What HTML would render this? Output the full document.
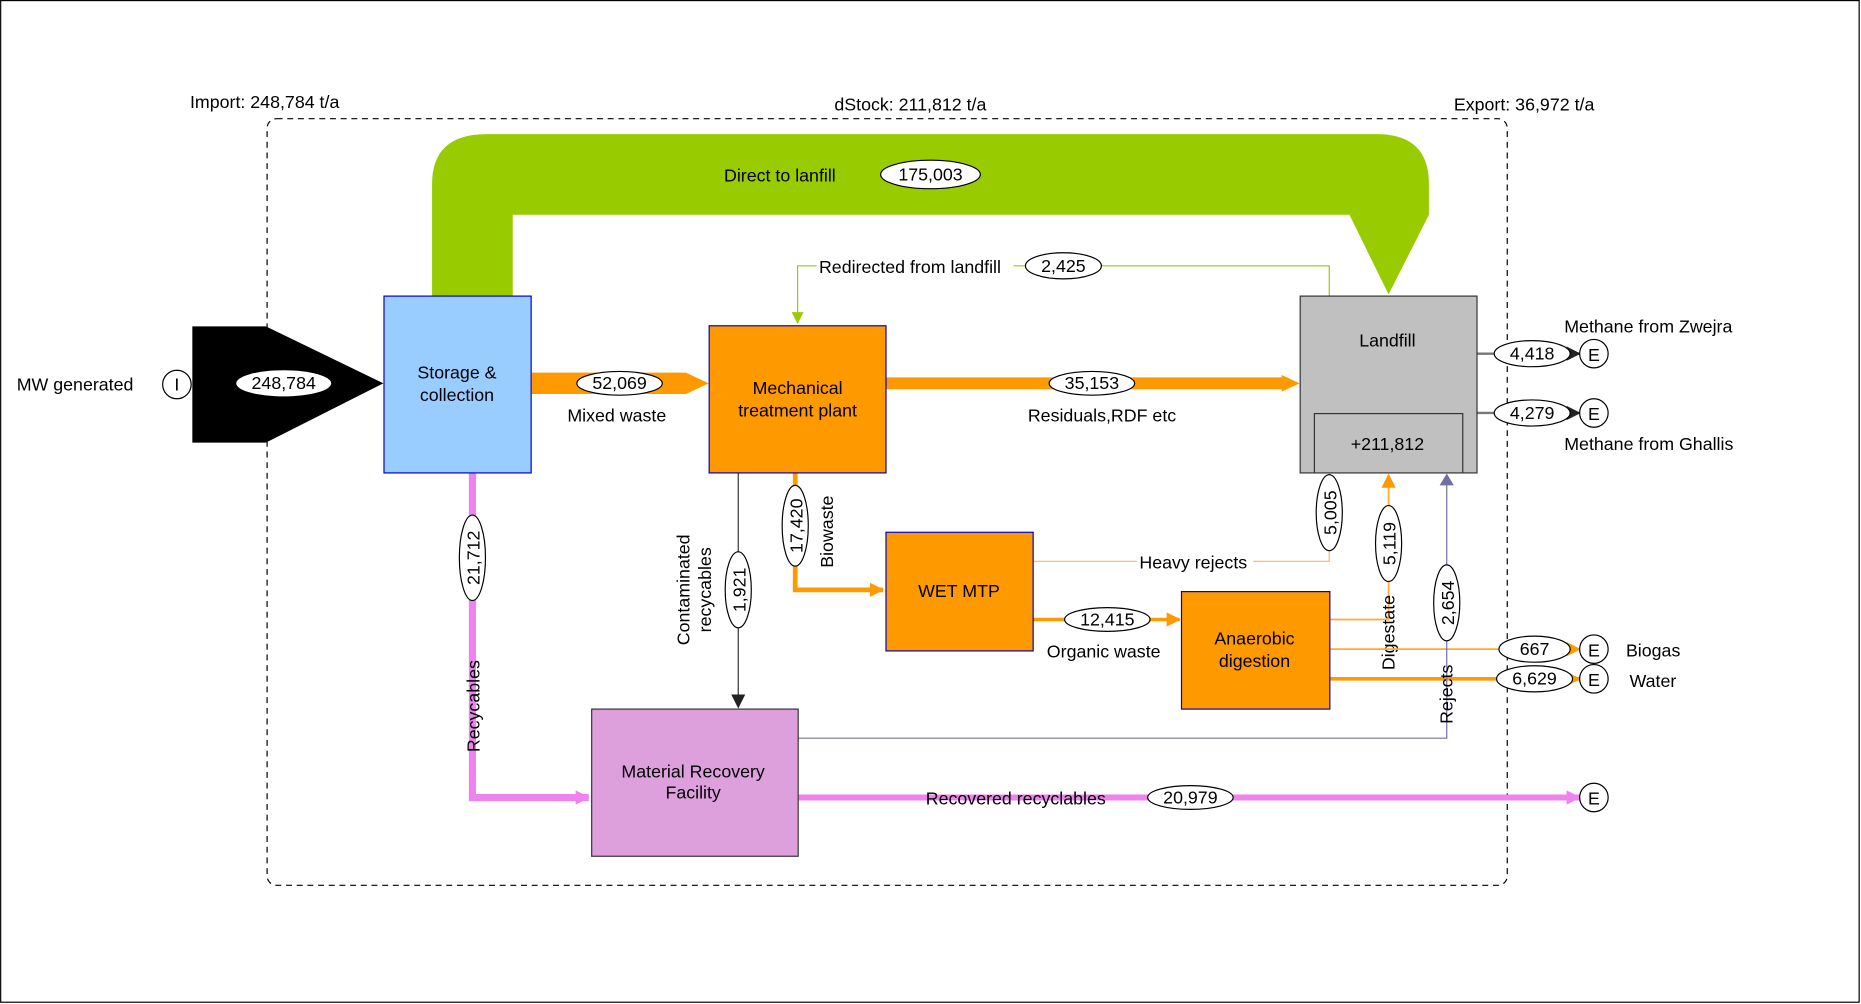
<!DOCTYPE html>
<html><head><meta charset="utf-8"><style>
html,body{margin:0;padding:0;background:#fff;}
svg{display:block;}
text{font-family:"Liberation Sans",sans-serif;font-size:15px;fill:#000;}
</style></head><body>
<svg width="1861" height="1004" viewBox="0 0 1568 846" xmlns="http://www.w3.org/2000/svg">
<defs>
<marker id="ab" markerWidth="8" markerHeight="8" refX="7" refY="4" orient="auto" markerUnits="userSpaceOnUse"><path d="M0,0 L8,4 L0,8 Z" fill="#000"/></marker>
<marker id="ao" markerWidth="12" markerHeight="12" refX="11" refY="6" orient="auto" markerUnits="userSpaceOnUse"><path d="M0,0 L12,6 L0,12 Z" fill="#ff9900"/></marker>
<marker id="ag" markerWidth="10" markerHeight="10" refX="9" refY="5" orient="auto" markerUnits="userSpaceOnUse"><path d="M0,0 L10,5 L0,10 Z" fill="#99cc00"/></marker>
<marker id="as" markerWidth="10" markerHeight="12" refX="9" refY="6" orient="auto" markerUnits="userSpaceOnUse"><path d="M0,0 L10,6 L0,12 Z" fill="#7070a0"/></marker>
<marker id="ap" markerWidth="12" markerHeight="12" refX="11" refY="6" orient="auto" markerUnits="userSpaceOnUse"><path d="M0,0 L12,6 L0,12 Z" fill="#ee82ee"/></marker>
<marker id="ad" markerWidth="12" markerHeight="12" refX="11" refY="6" orient="auto" markerUnits="userSpaceOnUse"><path d="M0,0 L12,6 L0,12 Z" fill="#222"/></marker>
</defs>
<rect x="0.5" y="0.5" width="1566" height="844" fill="#fff" stroke="#000"/>
<rect x="225" y="100" width="1045" height="646" rx="8" fill="none" stroke="#000" stroke-dasharray="5,4"/>
<text x="160" y="91">Import: 248,784 t/a</text>
<text x="703" y="93">dStock: 211,812 t/a</text>
<text x="1225" y="93">Export: 36,972 t/a</text>

<path d="M364,249 L364,155 Q364,113 410,113 L1160,113 Q1204,113 1204,155 L1204,181 L1170,248 L1137,181 L432,181 L432,249 Z" fill="#99cc00"/>
<text x="610" y="153">Direct to lanfill</text>
<ellipse cx="784" cy="147" rx="42" ry="12" fill="#fff" stroke="#000"/>
<text x="784" y="152" text-anchor="middle">175,003</text>

<polygon points="162,275 224,275 323,323 224,373 162,373" fill="#000"/>
<ellipse cx="239" cy="323" rx="40" ry="11" fill="#fff"/>
<text x="239" y="328" text-anchor="middle">248,784</text>
<text x="14" y="329">MW generated</text>
<circle cx="149" cy="324" r="12" fill="#fff" stroke="#000"/>
<text x="149" y="329" text-anchor="middle">I</text>

<polyline points="1120,249 1120,224 672,224 672,272" fill="none" stroke="#99cc00" stroke-width="1" marker-end="url(#ag)"/>
<rect x="688" y="214" width="166" height="18" fill="#fff"/>
<text x="690" y="230">Redirected from landfill</text>
<ellipse cx="896" cy="224" rx="32" ry="11" fill="#fff" stroke="#000"/>
<text x="896" y="229" text-anchor="middle">2,425</text>

<polygon points="448,314 578,314 578,314 597,323 578,332 448,332" fill="#ff9900"/>
<ellipse cx="522" cy="323" rx="36" ry="10" fill="#fff" stroke="#000"/>
<text x="522" y="328" text-anchor="middle">52,069</text>
<text x="478" y="355">Mixed waste</text>

<polygon points="746,318 1080,318 1080,316 1095,323 1080,330 1080,328 746,328" fill="#ff9900"/>
<ellipse cx="920" cy="323" rx="36" ry="10" fill="#fff" stroke="#000"/>
<text x="920" y="328" text-anchor="middle">35,153</text>
<text x="866" y="355">Residuals,RDF etc</text>

<polyline points="398,398 398,672 496,672" fill="none" stroke="#ee82ee" stroke-width="6" marker-end="url(#ap)"/>
<ellipse cx="398" cy="470" rx="11" ry="36" fill="#fff" stroke="#000"/>
<text transform="translate(404,470) rotate(-90)" text-anchor="middle">21,712</text>
<text transform="translate(404,595) rotate(-90)" text-anchor="middle">Recycables</text>

<line x1="622" y1="398" x2="622" y2="596" stroke="#333" stroke-width="1" marker-end="url(#ad)"/>
<ellipse cx="622" cy="497" rx="11" ry="32" fill="#fff" stroke="#000"/>
<text transform="translate(628,497) rotate(-90)" text-anchor="middle">1,921</text>
<text transform="translate(581,497) rotate(-90)" text-anchor="middle">Contaminated</text>
<text transform="translate(599,497) rotate(-90)" text-anchor="middle">recycables</text>

<polyline points="670,398 670,497 744,497" fill="none" stroke="#ff9900" stroke-width="4" marker-end="url(#ao)"/>
<ellipse cx="670" cy="443" rx="11" ry="34" fill="#fff" stroke="#000"/>
<text transform="translate(676,443) rotate(-90)" text-anchor="middle">17,420</text>
<text transform="translate(702,448) rotate(-90)" text-anchor="middle">Biowaste</text>

<polyline points="870,473 1120,473 1120,398" fill="none" stroke="#ffb84d" stroke-width="1"/>
<rect x="958" y="464" width="98" height="18" fill="#fff"/>
<text x="960" y="479">Heavy rejects</text>
<ellipse cx="1120" cy="432" rx="11" ry="32" fill="#fff" stroke="#000"/>
<text transform="translate(1126,432) rotate(-90)" text-anchor="middle">5,005</text>

<line x1="870" y1="522" x2="994" y2="522" stroke="#ff9900" stroke-width="3" marker-end="url(#ao)"/>
<ellipse cx="933" cy="522" rx="36" ry="10" fill="#fff" stroke="#000"/>
<text x="933" y="527" text-anchor="middle">12,415</text>
<text x="882" y="554">Organic waste</text>

<polyline points="1120,522 1170,522 1170,400" fill="none" stroke="#ffaa33" stroke-width="1.5" marker-end="url(#ao)"/>
<ellipse cx="1170" cy="458" rx="11" ry="32" fill="#fff" stroke="#000"/>
<text transform="translate(1176,458) rotate(-90)" text-anchor="middle">5,119</text>
<text transform="translate(1175,533) rotate(-90)" text-anchor="middle">Digestate</text>

<line x1="1120" y1="547" x2="1331" y2="547" stroke="#ffaa33" stroke-width="1.5" marker-end="url(#ao)"/>
<ellipse cx="1293" cy="547" rx="30" ry="11" fill="#fff" stroke="#000"/>
<text x="1293" y="552" text-anchor="middle">667</text>
<line x1="1120" y1="572" x2="1331" y2="572" stroke="#ff9900" stroke-width="3" marker-end="url(#ao)"/>
<ellipse cx="1293" cy="572" rx="32" ry="11" fill="#fff" stroke="#000"/>
<text x="1293" y="577" text-anchor="middle">6,629</text>
<text x="1370" y="553">Biogas</text>
<text x="1373" y="579">Water</text>

<polyline points="672,622 1219,622 1219,400" fill="none" stroke="#7070a0" stroke-width="1" marker-end="url(#as)"/>
<ellipse cx="1219" cy="508" rx="11" ry="32" fill="#fff" stroke="#000"/>
<text transform="translate(1225,508) rotate(-90)" text-anchor="middle">2,654</text>
<text transform="translate(1224,585) rotate(-90)" text-anchor="middle">Rejects</text>

<line x1="672" y1="672" x2="1331" y2="672" stroke="#ee82ee" stroke-width="5" marker-end="url(#ap)"/>
<text x="780" y="678">Recovered recyclables</text>
<ellipse cx="1003" cy="672" rx="36" ry="10" fill="#fff" stroke="#000"/>
<text x="1003" y="677" text-anchor="middle">20,979</text>

<line x1="1244" y1="298" x2="1331" y2="298" stroke="#777" stroke-width="2" marker-end="url(#ad)"/>
<ellipse cx="1291" cy="298" rx="32" ry="11" fill="#fff" stroke="#000"/>
<text x="1291" y="303" text-anchor="middle">4,418</text>
<line x1="1244" y1="348" x2="1331" y2="348" stroke="#777" stroke-width="2" marker-end="url(#ad)"/>
<ellipse cx="1291" cy="348" rx="32" ry="11" fill="#fff" stroke="#000"/>
<text x="1291" y="353" text-anchor="middle">4,279</text>
<text x="1318" y="280">Methane from Zwejra</text>
<text x="1318" y="379">Methane from Ghallis</text>

<g fill="#fff" stroke="#000">
<circle cx="1343" cy="298" r="12"/><circle cx="1343" cy="348" r="12"/>
<circle cx="1343" cy="547" r="12"/><circle cx="1343" cy="572" r="12"/>
<circle cx="1343" cy="672" r="12"/></g>
<g text-anchor="middle">
<text x="1343" y="304">E</text><text x="1343" y="354">E</text>
<text x="1343" y="553">E</text><text x="1343" y="578">E</text>
<text x="1343" y="678">E</text></g>

<rect x="323.5" y="249.5" width="124" height="149" fill="#99ccff" stroke="#0000cc"/>
<text x="385" y="319" text-anchor="middle">Storage &amp;</text>
<text x="385" y="338" text-anchor="middle">collection</text>
<rect x="597.5" y="274.5" width="149" height="124" fill="#ff9900" stroke="#0000cc"/>
<text x="672" y="332" text-anchor="middle">Mechanical</text>
<text x="672" y="351" text-anchor="middle">treatment plant</text>
<rect x="1095.5" y="249.5" width="149" height="149" fill="#c0c0c0" stroke="#333"/>
<rect x="1107.5" y="348.5" width="125" height="50" fill="#c0c0c0" stroke="#333"/>
<text x="1169" y="292" text-anchor="middle">Landfill</text>
<text x="1169" y="379" text-anchor="middle">+211,812</text>
<rect x="746.5" y="448.5" width="124" height="100" fill="#ff9900" stroke="#0000cc"/>
<text x="808" y="503" text-anchor="middle">WET MTP</text>
<rect x="995.5" y="498.5" width="125" height="99" fill="#ff9900" stroke="#0000cc"/>
<text x="1057" y="543" text-anchor="middle">Anaerobic</text>
<text x="1057" y="562" text-anchor="middle">digestion</text>
<rect x="498.5" y="597.5" width="174" height="124" fill="#dda0dd" stroke="#333"/>
<text x="584" y="655" text-anchor="middle">Material Recovery</text>
<text x="584" y="673" text-anchor="middle">Facility</text>
</svg>
</body></html>
